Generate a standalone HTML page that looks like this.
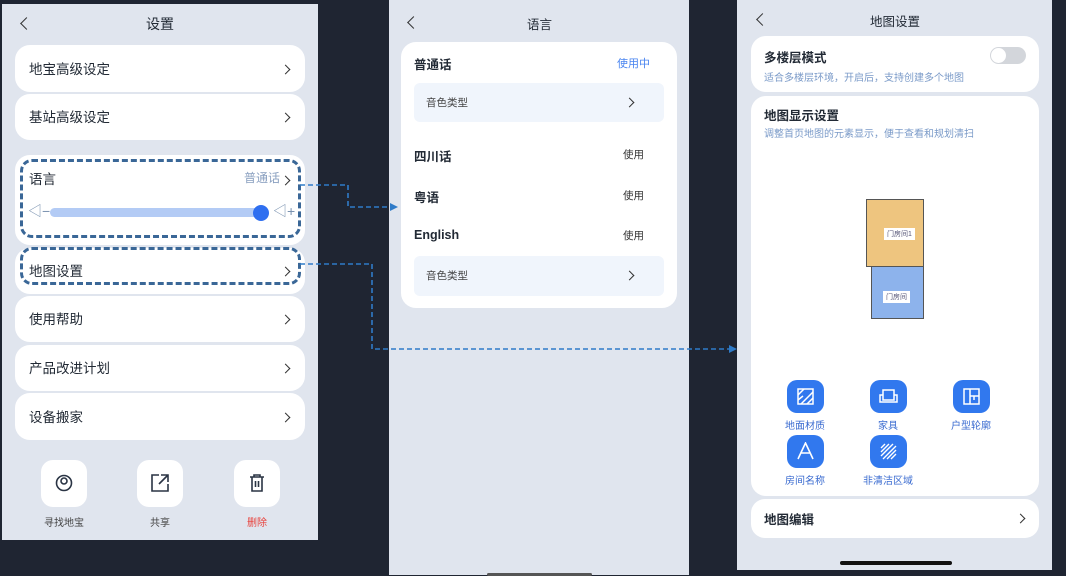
<!DOCTYPE html>
<html><head><meta charset="utf-8"><style>
*{box-sizing:border-box;margin:0;padding:0}
body{width:1066px;height:575px;background:#1f2532;position:relative;overflow:hidden;font-family:"Liberation Sans","Noto Sans CJK SC",sans-serif;color:#222a35}
.ph{position:absolute;background:#e0e5ee}
.card{position:absolute;background:#fff;border-radius:15px}
.t{position:absolute;white-space:nowrap}
.chev{position:absolute;width:7px;height:7px;border-right:1.5px solid #333;border-top:1.5px solid #333;transform:rotate(45deg)}
.back{position:absolute;width:9px;height:9px;border-left:1.6px solid #333;border-bottom:1.6px solid #333;transform:rotate(45deg)}
.dash{position:absolute;border:3px dashed #3a6797;border-radius:12px}
.btn{position:absolute;width:46px;height:47px;background:#fff;border-radius:12px}
.ic{position:absolute;width:37px;height:33px;background:#3178ee;border-radius:10px}
.il{position:absolute;font-size:10px;color:#3a6bd0;text-align:center;width:70px}
</style></head><body>
<!-- left phone -->
<div class="ph" style="left:2px;top:4px;width:316px;height:536px">
<div class="back" style="left:20px;top:15px"></div>
<div class="t" style="left:144px;top:10px;font-size:14px">设置</div>
<div class="card" style="left:13px;top:41px;width:290px;height:47px"></div>
<div class="t" style="left:27px;top:54px;font-size:13.5px">地宝高级设定</div><div class="chev" style="left:280px;top:62px"></div>
<div class="card" style="left:13px;top:90px;width:290px;height:46px"></div>
<div class="t" style="left:27px;top:102px;font-size:13.5px">基站高级设定</div><div class="chev" style="left:280px;top:110px"></div>
<div class="card" style="left:13px;top:151px;width:290px;height:90px"></div>
<div class="t" style="left:27px;top:164px;font-size:13.5px">语言</div>
<div class="t" style="left:242px;top:165px;font-size:12px;color:#8aa0c0">普通话</div><div class="chev" style="left:280px;top:173px"></div>
<div style="position:absolute;left:48px;top:204px;width:218px;height:9px;border-radius:5px;background:#b3cbf5"></div>
<div style="position:absolute;left:251px;top:201px;width:16px;height:16px;border-radius:50%;background:#2f6ff0"></div>
<div class="t" style="left:26px;top:197px;font-size:14px;color:#7a92b0">◁−</div>
<div class="t" style="left:271px;top:197px;font-size:14px;color:#7a92b0">◁+</div>
<div class="card" style="left:13px;top:244px;width:290px;height:46px"></div>
<div class="t" style="left:27px;top:256px;font-size:13.5px">地图设置</div><div class="chev" style="left:280px;top:264px"></div>
<div class="card" style="left:13px;top:292px;width:290px;height:46px"></div>
<div class="t" style="left:27px;top:304px;font-size:13.5px">使用帮助</div><div class="chev" style="left:280px;top:312px"></div>
<div class="card" style="left:13px;top:341px;width:290px;height:46px"></div>
<div class="t" style="left:27px;top:353px;font-size:13.5px">产品改进计划</div><div class="chev" style="left:280px;top:361px"></div>
<div class="card" style="left:13px;top:389px;width:290px;height:47px"></div>
<div class="t" style="left:27px;top:402px;font-size:13.5px">设备搬家</div><div class="chev" style="left:280px;top:410px"></div>
<div class="btn" style="left:39px;top:456px"></div>
<svg style="position:absolute;left:52px;top:469px" width="20" height="20"><circle cx="10" cy="10" r="7.5" fill="none" stroke="#2a3444" stroke-width="1.6"/><circle cx="10" cy="8" r="3" fill="none" stroke="#2a3444" stroke-width="1.6"/></svg>
<div class="btn" style="left:135px;top:456px"></div>
<svg style="position:absolute;left:149px;top:470px" width="18" height="18" fill="none" stroke="#2a3444" stroke-width="1.6"><path d="M8 1H1v16h16v-7"/><path d="M10 1h7v7M17 1L8 10"/></svg>
<div class="btn" style="left:232px;top:456px"></div>
<svg style="position:absolute;left:247px;top:470px" width="16" height="18" fill="none" stroke="#2a3444" stroke-width="1.6"><path d="M1 3h14M5 3V1h6v2M3 3v14h10V3M6.5 7v6M9.5 7v6"/></svg>
<div class="t" style="left:42px;top:510px;font-size:10px;color:#444">寻找地宝</div>
<div class="t" style="left:148px;top:510px;font-size:10px;color:#444">共享</div>
<div class="t" style="left:245px;top:510px;font-size:10px;color:#e8403a">删除</div>
</div>
<div class="dash" style="left:20px;top:159px;width:281px;height:79px"></div>
<div class="dash" style="left:20px;top:247px;width:281px;height:38px"></div>
<!-- middle phone -->
<div class="ph" style="left:389px;top:0;width:300px;height:575px">
<div class="back" style="left:20px;top:18px"></div>
<div class="t" style="left:138px;top:14px;font-size:12.5px">语言</div>
<div class="card" style="left:12px;top:42px;width:276px;height:266px"></div>
<div class="t" style="left:25px;top:54px;font-size:12.5px;font-weight:bold">普通话</div>
<div class="t" style="left:228px;top:55px;font-size:11px;color:#4a85f0">使用中</div>
<div style="position:absolute;left:25px;top:83px;width:250px;height:39px;background:#f0f5fc;border-radius:6px"></div>
<div class="t" style="left:37px;top:95px;font-size:10.5px;color:#444">音色类型</div><div class="chev" style="left:237px;top:99px"></div>
<div class="t" style="left:25px;top:146px;font-size:12.5px;font-weight:bold">四川话</div>
<div class="t" style="left:234px;top:147px;font-size:10.5px;color:#333">使用</div>
<div class="t" style="left:25px;top:187px;font-size:12.5px;font-weight:bold">粤语</div>
<div class="t" style="left:234px;top:188px;font-size:10.5px;color:#333">使用</div>
<div class="t" style="left:25px;top:228px;font-size:12.5px;font-weight:bold">English</div>
<div class="t" style="left:234px;top:228px;font-size:10.5px;color:#333">使用</div>
<div style="position:absolute;left:25px;top:256px;width:250px;height:40px;background:#f0f5fc;border-radius:6px"></div>
<div class="t" style="left:37px;top:268px;font-size:10.5px;color:#444">音色类型</div><div class="chev" style="left:237px;top:272px"></div>
<div style="position:absolute;left:98px;top:573px;width:105px;height:3px;background:#555;border-radius:2px"></div>
</div>
<!-- right phone -->
<div class="ph" style="left:737px;top:0;width:315px;height:570px">
<div class="back" style="left:21px;top:15px"></div>
<div class="t" style="left:133px;top:11px;font-size:12.5px">地图设置</div>
<div class="card" style="left:14px;top:36px;width:288px;height:56px"></div>
<div class="t" style="left:27px;top:47px;font-size:12.5px;font-weight:bold">多楼层模式</div>
<div class="t" style="left:27px;top:69px;font-size:10px;color:#7a9ac8">适合多楼层环境，开启后，支持创建多个地图</div>
<div style="position:absolute;left:253px;top:47px;width:36px;height:17px;border-radius:9px;background:#d3d6db"></div>
<div style="position:absolute;left:254px;top:48px;width:15px;height:15px;border-radius:50%;background:#fff"></div>
<div class="card" style="left:14px;top:96px;width:288px;height:400px"></div>
<div class="t" style="left:27px;top:105px;font-size:12.5px;font-weight:bold">地图显示设置</div>
<div class="t" style="left:27px;top:125px;font-size:10px;color:#7a9ac8">调整首页地图的元素显示，便于查看和规划清扫</div>
<div style="position:absolute;left:129px;top:199px;width:58px;height:68px;background:#eec57f;border:1.5px solid #555"></div>
<div style="position:absolute;left:134px;top:266px;width:53px;height:53px;background:#8db3ec;border:1.5px solid #555"></div>
<div class="t" style="left:147px;top:228px;font-size:7px;background:#fff;padding:1px 3px;color:#557">门房间1</div>
<div class="t" style="left:146px;top:291px;font-size:7px;background:#fff;padding:1px 3px;color:#557">门房间</div>
<div class="ic" style="left:50px;top:380px"></div>
<svg style="position:absolute;left:60px;top:388px" width="17" height="17" fill="none" stroke="#fff" stroke-width="1.5"><rect x="1" y="1" width="15" height="15"/><path d="M1 7l6-6M4 16L16 4M10 16l6-6M1 12l5-4"/></svg>
<div class="ic" style="left:133px;top:380px"></div>
<svg style="position:absolute;left:142px;top:388px" width="19" height="17" fill="none" stroke="#fff" stroke-width="1.5"><path d="M4 7V2h11v5M1 7h3v5h11V7h3v7H1z"/></svg>
<div class="ic" style="left:216px;top:380px"></div>
<svg style="position:absolute;left:226px;top:388px" width="17" height="17" fill="none" stroke="#fff" stroke-width="1.5"><rect x="1" y="1" width="15" height="15"/><path d="M7 1v15M7 8h9M11 8v4"/></svg>
<div class="ic" style="left:50px;top:435px"></div>
<svg style="position:absolute;left:60px;top:442px" width="17" height="18" fill="none" stroke="#fff" stroke-width="1.6"><path d="M1 17L8.5 1 16 17M4 11h9"/></svg>
<div class="ic" style="left:133px;top:435px"></div>
<svg style="position:absolute;left:143px;top:443px" width="17" height="17" fill="none" stroke="#fff" stroke-width="1.4"><path d="M1 5l4-4M1 9l8-8M1 13l12-12M3 16L16 3M7 16l9-9M11 16l5-5"/></svg>
<div class="il" style="left:33px;top:417px">地面材质</div>
<div class="il" style="left:116px;top:417px">家具</div>
<div class="il" style="left:199px;top:417px">户型轮廓</div>
<div class="il" style="left:33px;top:472px">房间名称</div>
<div class="il" style="left:116px;top:472px">非清洁区域</div>
<div class="card" style="left:14px;top:499px;width:288px;height:39px;border-radius:14px"></div>
<div class="t" style="left:27px;top:509px;font-size:12.5px;font-weight:bold">地图编辑</div><div class="chev" style="left:280px;top:515px"></div>
<div style="position:absolute;left:103px;top:561px;width:112px;height:4px;background:#111;border-radius:2px"></div>
</div>
<!-- connectors -->
<svg style="position:absolute;left:0;top:0" width="1066" height="575">
<g fill="none" stroke="#2f7bc8" stroke-width="1.6" stroke-dasharray="5,3">
<polyline points="300,185 348,185 348,207 392,207"/>
<polyline points="300,264 372,264 372,349 731,349"/>
</g>
<polygon points="390,203 398,207 390,211" fill="#2f7bc8"/>
<polygon points="729,345 737,349 729,353" fill="#2f7bc8"/>
</svg>
</body></html>
